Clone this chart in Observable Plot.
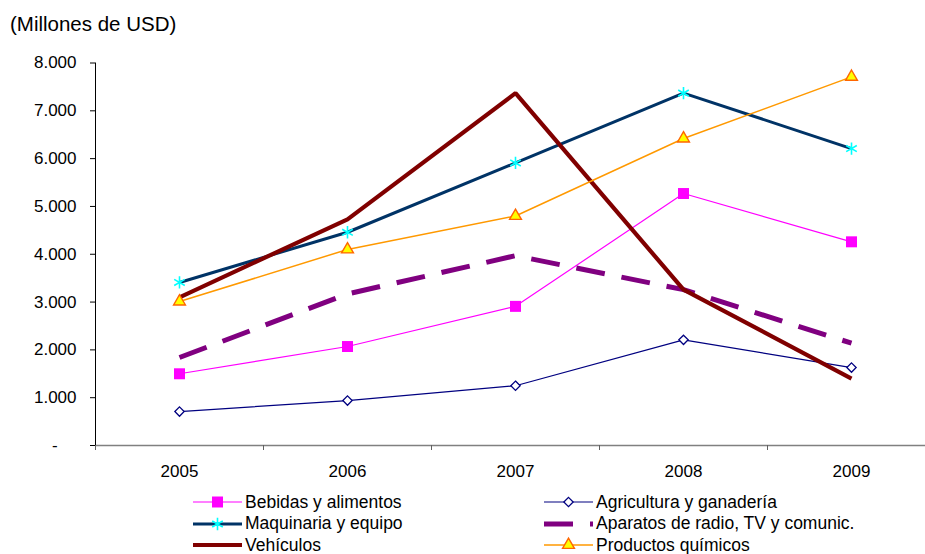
<!DOCTYPE html>
<html>
<head>
<meta charset="utf-8">
<script src="https://cdn.jsdelivr.net/npm/d3@7"></script>
<script src="https://cdn.jsdelivr.net/npm/@observablehq/plot@0.6"></script>
<style>
  html, body { margin: 0; padding: 0; background: #fff; }
  body { width: 925px; height: 554px; overflow: hidden; font-family: "Liberation Sans", Arial, sans-serif; color: #000; }
  #title { height: 40px; box-sizing: border-box; padding: 12px 0 0 10px; font-size: 20.5px; line-height: 24px; }
  #chart svg { display: block; }
  #legend { position: relative; height: 64px; font-size: 17.5px; }
  #legend .item { position: absolute; height: 22px; display: flex; align-items: center; white-space: nowrap; }
  #legend svg { display: block; margin-right: 3px; }
</style>
</head>
<body>
<div id="title">(Millones de USD)</div>
<div id="chart"></div>
<div id="legend"></div>
<script>
// Exportaciones por sector, 2005-2009 (millones de USD)
const years = [2005, 2006, 2007, 2008, 2009];
const bebidas = [1500, 2070, 2910, 5270, 4260];
const agricultura = [710, 940, 1250, 2210, 1630];
const maquinaria = [3410, 4460, 5910, 7370, 6210];
const aparatos = [1840, 3170, 3970, 3260, 2140];
const vehiculos = [3100, 4730, 7370, 3260, 1400];
const quimicos = [3010, 4100, 4800, 6420, 7710];

const yTicks = [0, 1000, 2000, 3000, 4000, 5000, 6000, 7000, 8000];
const yTickLabels = ["-", "1.000", "2.000", "3.000", "4.000", "5.000", "6.000", "7.000", "8.000"];
const xEdges = [2004.5, 2005.5, 2006.5, 2007.5, 2008.5, 2009.5];

const seriesNames = [
  "Bebidas y alimentos",
  "Agricultura y ganadería",
  "Maquinaria y equipo",
  "Aparatos de radio, TV y comunic.",
  "Vehículos",
  "Productos químicos"
];
const seriesValues = [bebidas, agricultura, maquinaria, aparatos, vehiculos, quimicos];

// line and marker styling per series
const looks = [
  {stroke: "#FF00FF", strokeWidth: 1.2, symbol: "square", r: 6.2, fill: "#FF00FF", mstroke: "none", mwidth: 0},
  {stroke: "#000080", strokeWidth: 1.2, symbol: "diamond2", r: 4.2, fill: "#FFFFFF", mstroke: "#000080", mwidth: 1.3},
  {stroke: "#003366", strokeWidth: 3, symbol: "asterisk", r: 5.8, fill: "none", mstroke: "#00FFFF", mwidth: 1.6},
  {stroke: "#800080", strokeWidth: 5, dash: "29,17"},
  {stroke: "#800000", strokeWidth: 4.2},
  {stroke: "#FF9900", strokeWidth: 1.5, symbol: "triangle", r: 4.4, fill: "#FFFF00", mstroke: "#FF6600", mwidth: 1.4}
];

const rows = seriesNames.flatMap((name, k) =>
  years.map((year, i) => ({series: name, year, value: seriesValues[k][i]}))
);

const marks = [];
// axis lines
marks.push(Plot.ruleY([0], {x1: xEdges[0], x2: xEdges[xEdges.length - 1], stroke: "#808080", strokeWidth: 1.4}));
marks.push(Plot.ruleX([xEdges[0]], {y1: yTicks[0], y2: yTicks[yTicks.length - 1], stroke: "#000", strokeWidth: 1}));
marks.push(Plot.axisY({
  ticks: yTicks, label: null,
  tickFormat: (d) => yTickLabels[yTicks.indexOf(d)] + (d === 0 ? "    " : ""),
  tickSize: 5, tickPadding: 14, stroke: "#000", strokeWidth: 1, fill: "#000", fontSize: 17
}));
marks.push(Plot.axisX({
  ticks: xEdges, label: null, tickFormat: () => "", tickSize: 5, stroke: "#606060", strokeWidth: 1
}));
marks.push(Plot.axisX({
  ticks: years, label: null, tickFormat: (d) => `${d}`, tickSize: 0, tickPadding: 19, fill: "#000", fontSize: 17
}));

seriesNames.forEach((name, k) => {
  const lk = looks[k];
  const data = rows.filter((d) => d.series === name);
  marks.push(Plot.line(data, {
    x: "year", y: "value",
    stroke: lk.stroke, strokeWidth: lk.strokeWidth,
    strokeDasharray: lk.dash, strokeLinecap: "butt", strokeLinejoin: "miter"
  }));
  if (lk.symbol) {
    marks.push(Plot.dot(data, {
      x: "year", y: "value", symbol: lk.symbol, r: lk.r,
      fill: lk.fill, stroke: lk.mstroke, strokeWidth: lk.mwidth
    }));
  }
});

const chart = Plot.plot({
  width: 925,
  height: 450,
  marginLeft: 95,
  marginRight: -10,
  marginTop: 22.5,
  marginBottom: 45,
  x: {type: "linear", domain: [xEdges[0], xEdges[xEdges.length - 1]], range: [95, 935], axis: null, label: null},
  y: {domain: [yTicks[0], yTicks[yTicks.length - 1]], range: [405, 22.5], axis: null, label: null},
  style: {fontFamily: "'Liberation Sans', Arial, sans-serif", fontSize: "17px", color: "#000", background: "#fff"},
  marks
});
document.getElementById("chart").appendChild(chart);

// legend: two columns, three rows
const symbolTypes = {square: d3.symbolSquare, diamond2: d3.symbolDiamond2, asterisk: d3.symbolAsterisk, triangle: d3.symbolTriangle};
const legend = d3.select("#legend");
const colX = [193, 544];
const rowY = [1, 22.5, 44];
seriesNames.forEach((name, k) => {
  const lk = looks[k];
  const item = legend.append("div").attr("class", "item")
    .style("left", colX[k % 2] + "px")
    .style("top", rowY[Math.floor(k / 2)] + "px");
  const svg = item.append("svg").attr("width", 49).attr("height", 22);
  svg.append("line")
    .attr("x1", 0).attr("x2", 49).attr("y1", 11).attr("y2", 11)
    .attr("stroke", lk.stroke).attr("stroke-width", lk.strokeWidth)
    .attr("stroke-dasharray", lk.dash || null);
  if (lk.symbol) {
    svg.append("path")
      .attr("transform", "translate(24.5,11)")
      .attr("d", d3.symbol(symbolTypes[lk.symbol], Math.PI * lk.r * lk.r)())
      .attr("fill", lk.fill).attr("stroke", lk.mstroke).attr("stroke-width", lk.mwidth);
  }
  item.append("span").text(name);
});
</script>
</body>
</html>
